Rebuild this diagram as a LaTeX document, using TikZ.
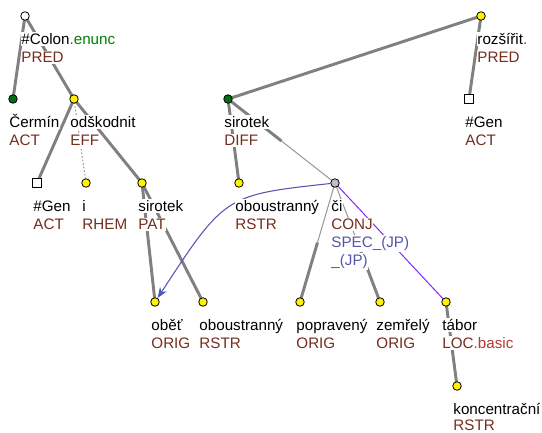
\documentclass[tikz,border=0pt]{standalone}
\usepackage{fontspec}
\setmainfont{Liberation Sans}
\usetikzlibrary{calc,arrows.meta}
\definecolor{func}{RGB}{117,45,30}
\definecolor{gramgreen}{RGB}{0,128,0}
\definecolor{basicred}{RGB}{185,55,55}
\definecolor{specblue}{RGB}{85,85,170}
\definecolor{corefblue}{RGB}{85,85,180}
\definecolor{coordpurple}{RGB}{128,40,255}
\definecolor{edgegray}{RGB}{128,128,128}
\definecolor{thingray}{RGB}{150,150,150}
\definecolor{nodegreen}{RGB}{0,110,20}
\definecolor{nodegray}{RGB}{192,192,192}
\pgfdeclarelayer{bg}
\pgfsetlayers{bg,main}
\begin{document}
\begin{tikzpicture}[x=0.75pt,y=-0.75pt,
  tnode/.style={circle,draw=black,line width=0.6pt,minimum size=6.4pt,inner sep=0pt},
  snode/.style={rectangle,draw=black,fill=white,line width=0.6pt,minimum size=6.2pt,inner sep=0pt},
  lbl/.style={anchor=base west,fill=white,inner xsep=0.5pt,inner ysep=1pt,font=\fontsize{11.4pt}{13.5pt}\selectfont},
  fn/.style={lbl,text=func},
  sp/.style={lbl,text=specblue},
  thickedge/.style={draw=edgegray,line width=2.2pt},
  thinedge/.style={draw=thingray,line width=0.75pt},
  dotedge/.style={draw=thingray,line width=0.75pt,dash pattern=on 1.2pt off 1.5pt},
  purpleedge/.style={draw=coordpurple,line width=0.75pt},
  coref/.style={draw=corefblue,line width=0.8pt,-{Stealth[length=8pt,width=6pt]}}
]
\useasboundingbox (0,0) rectangle (542,432);

% tree nodes
\node[tnode,fill=white] (colon) at (25,16) {};
\node[tnode,fill=yellow] (rozs) at (481,16) {};
\node[tnode,fill=nodegreen] (cermin) at (13,99) {};
\node[tnode,fill=yellow] (odsk) at (74,99) {};
\node[tnode,fill=nodegreen] (sirD) at (228,99) {};
\node[snode] (genR) at (469,99) {};
\node[snode] (genL) at (37,183) {};
\node[tnode,fill=yellow] (i) at (86,183) {};
\node[tnode,fill=yellow] (sirP) at (142,183) {};
\node[tnode,fill=yellow] (oboU) at (239,183) {};
\node[tnode,fill=nodegray] (ci) at (335,183) {};
\node[tnode,fill=yellow] (obet) at (155,302) {};
\node[tnode,fill=yellow] (oboL) at (203,302) {};
\node[tnode,fill=yellow] (poprav) at (300,302) {};
\node[tnode,fill=yellow] (zemr) at (380,302) {};
\node[tnode,fill=yellow] (tabor) at (446,302) {};
\node[tnode,fill=yellow] (konc) at (457,386) {};

% labels
\node[lbl] (colon-a) at (20.5,44.5) {\#Colon\textcolor{gramgreen}{.enunc}};
\node[fn] (colon-b) at (20.5,62.5) {PRED};
\node[lbl] (rozs-a) at (476.5,44.5) {rozšířit\textcolor{gramgreen}{.}};
\node[fn] (rozs-b) at (476.5,62.5) {PRED};
\node[lbl] (cermin-a) at (8.5,127.5) {Čermín};
\node[fn] (cermin-b) at (8.5,145.5) {ACT};
\node[lbl] (odsk-a) at (69.5,127.5) {odškodnit};
\node[fn] (odsk-b) at (69.5,145.5) {EFF};
\node[lbl] (sirD-a) at (223.5,127.5) {sirotek};
\node[fn] (sirD-b) at (223.5,145.5) {DIFF};
\node[lbl] (genR-a) at (464.5,127.5) {\#Gen};
\node[fn] (genR-b) at (464.5,145.5) {ACT};
\node[lbl] (genL-a) at (32.5,211.5) {\#Gen};
\node[fn] (genL-b) at (32.5,229.5) {ACT};
\node[lbl] (i-a) at (81.5,211.5) {i};
\node[fn] (i-b) at (81.5,229.5) {RHEM};
\node[lbl] (sirP-a) at (137.5,211.5) {sirotek};
\node[fn] (sirP-b) at (137.5,229.5) {PAT};
\node[lbl] (oboU-a) at (234.5,211.5) {oboustranný};
\node[fn] (oboU-b) at (234.5,229.5) {RSTR};
\node[lbl] (ci-a) at (330.5,211.5) {či};
\node[fn] (ci-b) at (330.5,229.5) {CONJ};
\node[sp] (ci-c) at (330.5,247.5) {SPEC\_(JP)};
\node[sp] (ci-d) at (330.5,265.5) {\_(JP)};
\node[lbl] (obet-a) at (150.5,330.5) {oběť};
\node[fn] (obet-b) at (150.5,348.5) {ORIG};
\node[lbl] (oboL-a) at (198.5,330.5) {oboustranný};
\node[fn] (oboL-b) at (198.5,348.5) {RSTR};
\node[lbl] (poprav-a) at (295.5,330.5) {popravený};
\node[fn] (poprav-b) at (295.5,348.5) {ORIG};
\node[lbl] (zemr-a) at (375.5,330.5) {zemřelý};
\node[fn] (zemr-b) at (375.5,348.5) {ORIG};
\node[lbl] (tabor-a) at (441.5,330.5) {tábor};
\node[fn] (tabor-b) at (441.5,348.5) {LOC\textcolor{basicred}{.basic}};
\node[lbl] (konc-a) at (452.5,414) {koncentrační};
\node[fn,fill=none,inner ysep=0pt] (konc-b) at (452.5,430) {RSTR};

\begin{pgfonlayer}{bg}
  \draw[thickedge] (colon.center) -- (cermin.center);
  \draw[thickedge] (colon.center) -- (odsk.center);
  \draw[thickedge] (odsk.center) -- (genL.center);
  \draw[dotedge] (odsk.center) -- (i.center);
  \draw[thickedge] (odsk.center) -- (sirP.center);
  \draw[thickedge] (sirP.center) -- (obet.center);
  \draw[thickedge] (sirP.center) -- (oboL.center);
  \draw[thickedge] (rozs.center) -- (sirD.center);
  \draw[thickedge] (rozs.center) -- (genR.center);
  \draw[thickedge] (sirD.center) -- (oboU.center);
  \draw[thickedge] (tabor.center) -- (konc.center);
  \coordinate (m1) at ($(sirD.center)!0.5!(ci.center)$);
  \draw[thickedge] (sirD.center) -- (m1);
  \draw[thinedge] (m1) -- (ci.center);
  \coordinate (m2) at ($(ci.center)!0.5!(poprav.center)$);
  \draw[thinedge] (ci.center) -- (m2);
  \draw[thickedge] (m2) -- (poprav.center);
  \coordinate (m3) at ($(ci.center)!0.5!(zemr.center)$);
  \draw[thinedge] (ci.center) -- (m3);
  \draw[thickedge] (m3) -- (zemr.center);
  \draw[purpleedge] (ci.center) -- (tabor.center);
  \draw[coref] (ci) .. controls (225,195) .. (obet);
\end{pgfonlayer}
\end{tikzpicture}
\end{document}
